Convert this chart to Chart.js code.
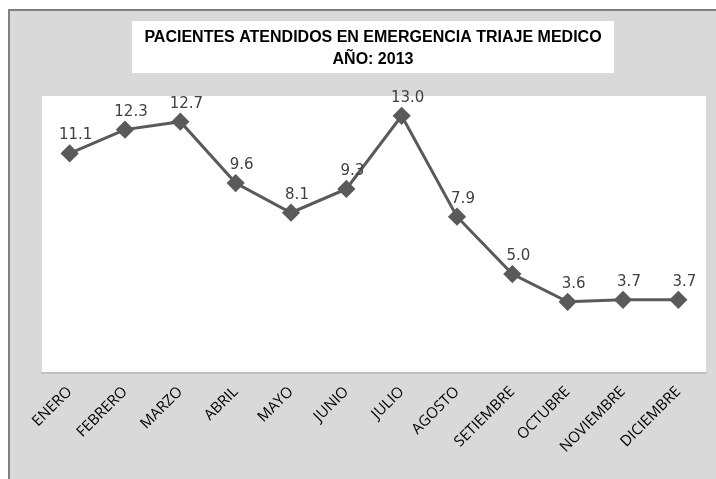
<!DOCTYPE html>
<html>
<head>
    <title>Pacientes atendidos en emergencia triaje medico 2013</title>
    <style>
        body {
            margin: 0;
            padding: 0;
            background: #ffffff;
        }
        #chart-container {
            width: 716px;
            height: 479px;
        }
    </style>
    <script src="https://cdn.jsdelivr.net/npm/chart.js"></script>
</head>
<body>
    <div id="chart-container">
        <canvas id="triajeChart"></canvas>
    </div>
    <script>
        const months = ['ENERO', 'FEBRERO', 'MARZO', 'ABRIL', 'MAYO', 'JUNIO', 'JULIO', 'AGOSTO', 'SETIEMBRE', 'OCTUBRE', 'NOVIEMBRE', 'DICIEMBRE'];
        const pacientes = [11.1, 12.3, 12.7, 9.6, 8.1, 9.3, 13.0, 7.9, 5.0, 3.6, 3.7, 3.7];
        const titleLines = ['PACIENTES ATENDIDOS EN EMERGENCIA TRIAJE MEDICO', 'AÑO: 2013'];

        // frame, white plot area and title box (Excel look)
        const frameBackground = {
            id: 'frameBackground',
            beforeDraw(chart) {
                const ctx = chart.ctx;
                const area = chart.chartArea;
                ctx.save();
                ctx.fillStyle = '#d9d9d9';
                ctx.fillRect(9, 10, chart.width - 9, chart.height - 10);
                ctx.strokeStyle = '#808080';
                ctx.lineWidth = 2;
                ctx.beginPath();
                ctx.moveTo(9, chart.height);
                ctx.lineTo(9, 10);
                ctx.lineTo(chart.width, 10);
                ctx.stroke();
                ctx.fillStyle = '#ffffff';
                ctx.fillRect(area.left, area.top, area.right - area.left, area.bottom - area.top);
                ctx.fillRect(132, 21, 482, 52);
                ctx.fillStyle = '#000000';
                ctx.font = 'bold 16px "Liberation Sans", Arial, sans-serif';
                ctx.textAlign = 'center';
                ctx.textBaseline = 'middle';
                ctx.fillText(titleLines[0], 373, 38);
                ctx.fillText(titleLines[1], 373, 60);
                ctx.restore();
            }
        };

        const pointLabels = {
            id: 'pointLabels',
            afterDatasetsDraw(chart) {
                const ctx = chart.ctx;
                const meta = chart.getDatasetMeta(0);
                ctx.save();
                ctx.fillStyle = '#404040';
                ctx.font = '15px "DejaVu Sans", Verdana, sans-serif';
                ctx.textAlign = 'center';
                ctx.textBaseline = 'middle';
                meta.data.forEach((pt, i) => {
                    ctx.fillText(pacientes[i].toFixed(1), pt.x + 6, pt.y - 18);
                });
                ctx.restore();
            }
        };

        new Chart(document.getElementById('triajeChart'), {
            type: 'line',
            data: {
                labels: months,
                datasets: [{
                    label: 'Pacientes',
                    data: pacientes,
                    borderColor: '#5a5a5a',
                    backgroundColor: '#5a5a5a',
                    borderWidth: 3,
                    pointStyle: 'rectRot',
                    pointRadius: 7,
                    pointHoverRadius: 7,
                    tension: 0
                }]
            },
            options: {
                responsive: true,
                maintainAspectRatio: false,
                animation: false,
                layout: {
                    padding: { left: 42, right: 9, top: 96, bottom: 0 }
                },
                plugins: {
                    legend: { display: false },
                    title: { display: false },
                    tooltip: { enabled: false }
                },
                scales: {
                    x: {
                        offset: true,
                        grid: { display: false },
                        border: { color: '#bfbfbf', width: 2 },
                        ticks: {
                            color: '#000000',
                            font: { family: '"Open Sans", sans-serif', size: 15 },
                            minRotation: 45,
                            maxRotation: 45,
                            autoSkip: false,
                            padding: 2
                        },
                        afterFit(scale) {
                            scale.height = 106;
                        }
                    },
                    y: {
                        display: false,
                        min: 0,
                        max: 14
                    }
                }
            },
            plugins: [frameBackground, pointLabels]
        });
    </script>
</body>
</html>
